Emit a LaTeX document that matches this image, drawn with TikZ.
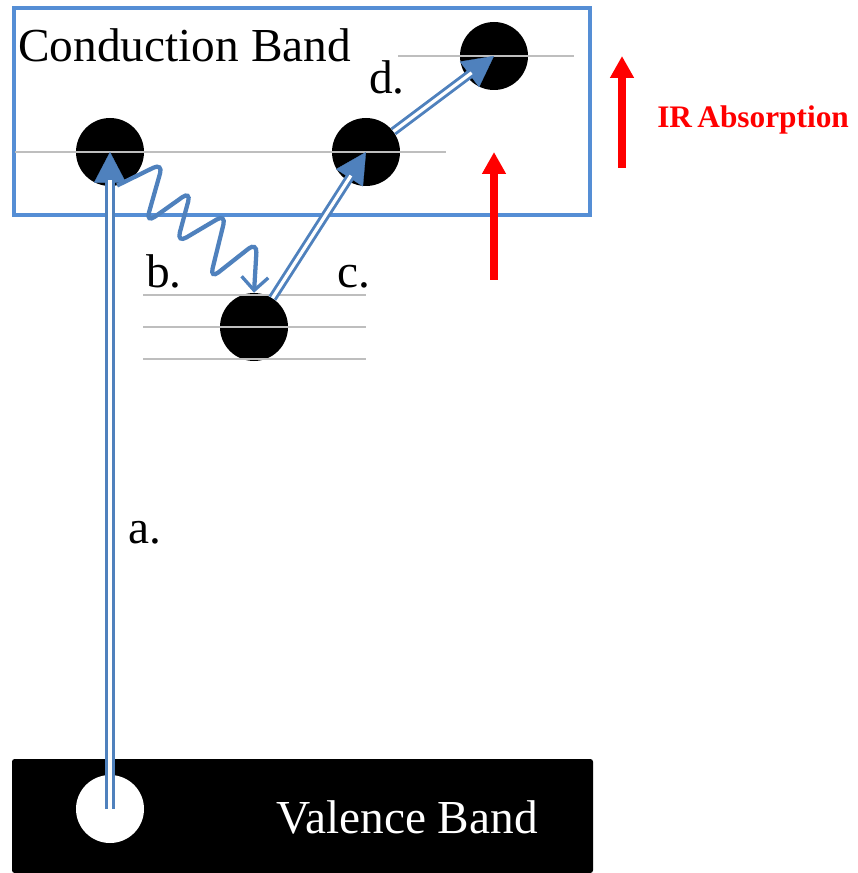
\documentclass[tikz,border=0pt]{standalone}
\usepackage{fontspec}
\setmainfont{Liberation Serif}
\newfontfamily\tms{Liberation Serif}
\usetikzlibrary{arrows.meta}
\definecolor{boxblue}{RGB}{85,142,213}
\definecolor{arrblue}{RGB}{79,129,189}
\definecolor{lvlgray}{RGB}{190,190,190}
\definecolor{irred}{RGB}{255,0,0}
\tikzset{
  elec/.style={circle,fill=black,draw=none,minimum size=51pt,inner sep=0pt},
  level/.style={draw=lvlgray,line width=1.5pt},
  dblshaft/.style={draw=arrblue,double=white,line width=2.2pt,double distance=2.4pt,shorten >=21pt},
  dbltip/.style={draw=arrblue,line width=0.2pt,-{Triangle[length=23pt,width=24pt]}},
  wave/.style={draw=arrblue,line width=3.2pt,rounded corners=8pt,-{Straight Barb[length=10pt,width=20pt,line width=2.5pt]}},
  irarrow/.style={draw=irred,line width=6pt,-{Triangle[length=16.5pt,width=17pt]}},
  bigtxt/.style={font=\tms\fontsize{35.5}{40}\selectfont,inner sep=0pt},
  lbl/.style={font=\tms\fontsize{35.5}{40}\selectfont,inner sep=0pt,anchor=base west},
}
\begin{document}
\begin{tikzpicture}[x=0.75pt,y=-0.75pt]
\useasboundingbox (0,0) rectangle (857,873);
% valence band
\fill[black,rounded corners=2pt] (12,873) -- (12,759) -- (593,759) -- (593,873) -- cycle;
\node[bigtxt,text=white,anchor=base west] (vb) at (276,833) {Valence Band};
% conduction band box
\draw[boxblue,line width=3pt] (14,8) rectangle (590,215);
\node[bigtxt,anchor=base west] (cb) at (18,62) {Conduction Band};
% particles
\node[elec] (e1) at (110,152) {};
\node[elec] (e2) at (366,152) {};
\node[elec] (e4) at (494,56) {};
\node[elec] (e3) at (254,327) {};
\node[circle,fill=white,minimum size=51pt,inner sep=0pt] (h) at (110,809) {};
% levels
\draw[level] (15,152) -- (446,152);
\draw[level] (398,56) -- (574,56);
\draw[level] (143,295) -- (366,295);
\draw[level] (143,327) -- (366,327);
\draw[level] (143,359) -- (366,359);
% transitions (tip first, double shaft on top)
\draw[dbltip] (h.center) -- (e1.center);
\draw[dblshaft] (h.center) -- (e1.center);
\draw[dbltip] (e3) -- (e2.center);
\draw[dblshaft] (e3) -- (e2.center);
\draw[dbltip] (e2) -- (e4.center);
\draw[dblshaft] (e2) -- (e4.center);
\draw[wave] (e1.-78) -- (163,163) -- (146,223) -- (191,191) -- (177,243) -- (226,214) -- (210,279) -- (257,242) -- (e3.north);
% labels
\node[lbl] (la) at (128,543) {a.};
\node[lbl] (lb) at (146,287) {b.};
\node[lbl] (lc) at (337,287) {c.};
\node[lbl] (ld) at (369,94) {d.};
% IR arrows
\coordinate (r1s) at (494,280);
\coordinate (r1e) at (494,152);
\coordinate (r2s) at (622,168);
\coordinate (r2e) at (622,56);
\draw[irarrow] (r1s) -- (r1e);
\draw[irarrow] (r2s) -- (r2e);
\node[font=\tms\bfseries\fontsize{23.5}{26}\selectfont,text=irred,inner sep=0pt,anchor=base west] (ir) at (657,128) {IR\hspace{-0.08em} Absorption};
\end{tikzpicture}
\end{document}
